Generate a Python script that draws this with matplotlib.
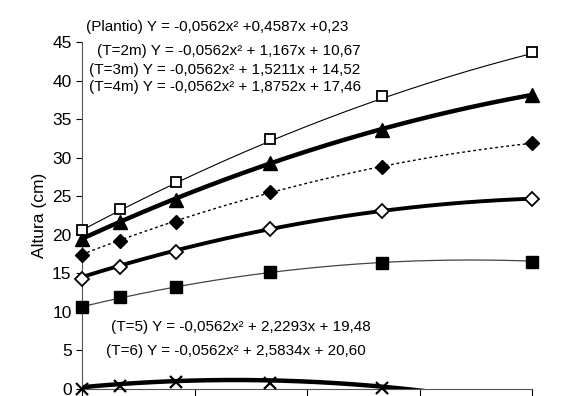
import numpy as np
import matplotlib
matplotlib.use("Agg")
import matplotlib.pyplot as plt

plt.rcParams["font.family"] = ["Liberation Sans", "DejaVu Sans"]

# sampling times (months) and measured heights (cm)
x = [0, 1, 2.5, 5, 8, 12]
plantio = [0.0, 0.4, 0.9, 0.8, 0.1]
t2 = [10.6, 11.9, 13.2, 15.2, 16.4, 16.5]
t3 = [14.3, 15.8, 17.8, 20.8, 23.1, 24.6]
t4 = [17.4, 19.2, 21.7, 25.5, 28.8, 31.9]
t5 = [19.4, 21.6, 24.5, 29.3, 33.6, 38.1]
t6 = [20.6, 23.3, 26.9, 32.4, 38.0, 43.7]

# quadratic trend coefficients shown on the chart (a, b, c)
coef_plantio = [-0.0562, 0.4587, 0.23]
coef_t2 = [-0.0562, 1.167, 10.67]
coef_t3 = [-0.0562, 1.5211, 14.52]
coef_t4 = [-0.0562, 1.8752, 17.46]
coef_t5 = [-0.0562, 2.2293, 19.48]
coef_t6 = [-0.0562, 2.5834, 20.60]

labels = [
    "(Plantio) Y = -0,0562x² +0,4587x +0,23",
    "(T=2m) Y = -0,0562x² + 1,167x + 10,67",
    "(T=3m) Y = -0,0562x² + 1,5211x + 14,52",
    "(T=4m) Y = -0,0562x² + 1,8752x + 17,46",
    "(T=5) Y = -0,0562x² + 2,2293x + 19,48",
    "(T=6) Y = -0,0562x² + 2,5834x + 20,60",
]

fig = plt.figure(figsize=(5.72, 3.96), dpi=100)
ax = fig.add_axes([82 / 572, 7 / 396, 450 / 572, 347 / 396])

xs = np.linspace(0, 12, 200)

series = [
    (x[:5], plantio, coef_plantio, dict(marker="x", ms=8, mew=1.6, mfc="k"), dict(lw=3.2, color="k")),
    (x, t2, coef_t2, dict(marker="s", ms=8, mfc="k"), dict(lw=0.9, color="#444444")),
    (x, t3, coef_t3, dict(marker="D", ms=7, mfc="white", mew=1.3), dict(lw=2.8, color="k")),
    (x, t4, coef_t4, dict(marker="D", ms=7.5, mfc="k"), dict(lw=1.0, color="k", ls=(0, (2, 2)))),
    (x, t5, coef_t5, dict(marker="^", ms=10, mfc="k"), dict(lw=3.2, color="k")),
    (x, t6, coef_t6, dict(marker="s", ms=7.5, mfc="white", mew=1.3), dict(lw=0.8, color="k")),
]

for xv, yv, coef, mk, ln in series:
    ax.plot(xs, np.polyval(coef, xs), zorder=2, **ln)
    ax.plot(xv, yv, ls="none", color="k", mec="k", zorder=3, clip_on=False, **mk)

ax.set_xlim(0, 12)
ax.set_ylim(0, 45)
ax.set_yticks(range(0, 46, 5))
ax.set_xticks([0, 3, 6, 9, 12])
ax.set_xticklabels([])
ax.tick_params(axis="y", labelsize=12.5, length=4, direction="out")
ax.tick_params(axis="x", length=5, direction="out")
ax.spines["top"].set_visible(False)
ax.spines["right"].set_visible(False)
for s in ("left", "bottom"):
    ax.spines[s].set_color("#555555")
ax.set_ylabel("Altura (cm)", fontsize=12.5, labelpad=4)

# equation labels in pixel coordinates of the figure
pos = [(86, 27), (97, 51), (89, 70), (89, 87), (111, 327), (106, 351)]
for (px, py), txt in zip(pos, labels):
    fig.text(px / 572, 1 - py / 396, txt, fontsize=11, ha="left", va="center")

fig.savefig("out.png", dpi=100)
